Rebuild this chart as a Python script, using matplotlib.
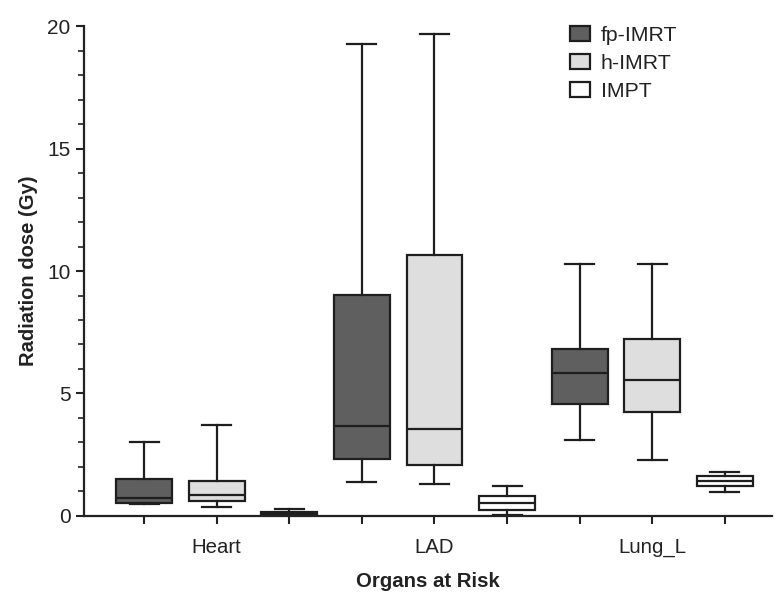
import matplotlib
matplotlib.use("Agg")
import matplotlib.pyplot as plt
from matplotlib.patches import Patch
from matplotlib.ticker import MultipleLocator

plt.rcParams['font.family'] = ['Liberation Sans', 'DejaVu Sans']

organs = ["Heart", "LAD", "Lung_L"]
plans = ["fp-IMRT", "h-IMRT", "IMPT"]
colors = ["#5f5f5f", "#dedede", "#ffffff"]

# per organ, per plan: (whislo, q1, med, q3, whishi)
whislo = [[0.49, 0.38, 0.00], [1.39, 1.29, 0.02], [3.09, 2.29, 0.98]]
q1     = [[0.54, 0.61, 0.04], [2.33, 2.07, 0.24], [4.58, 4.23, 1.21]]
med    = [[0.72, 0.84, 0.09], [3.65, 3.55, 0.54], [5.85, 5.55, 1.42]]
q3     = [[1.50, 1.43, 0.15], [9.02, 10.65, 0.82], [6.82, 7.21, 1.63]]
whishi = [[3.00, 3.71, 0.29], [19.29, 19.70, 1.20], [10.27, 10.27, 1.80]]

fig = plt.figure(figsize=(7.76, 5.95), dpi=100)
ax = fig.add_axes([0.108, 0.133, 0.887, 0.823])

positions = []
for i, organ in enumerate(organs):
    for j, plan in enumerate(plans):
        pos = i * 3 + j + 1
        positions.append(pos)
        st = dict(whislo=whislo[i][j], q1=q1[i][j], med=med[i][j],
                  q3=q3[i][j], whishi=whishi[i][j], fliers=[])
        ax.bxp([st], positions=[pos], widths=0.77, patch_artist=True,
               showfliers=False, capwidths=0.4,
               boxprops=dict(facecolor=colors[j], edgecolor="#1e1e1e", linewidth=1.6),
               medianprops=dict(color="#1e1e1e", linewidth=1.6),
               whiskerprops=dict(color="#1e1e1e", linewidth=1.6),
               capprops=dict(color="#1e1e1e", linewidth=1.6))

ax.set_xlim(0.17, 9.65)
ax.set_ylim(0, 20)
ax.set_xticks(positions)
labels = []
for p in positions:
    if (p - 2) % 3 == 0:
        labels.append(organs[(p - 2) // 3])
    else:
        labels.append("")
ax.set_xticklabels(labels, fontsize=14.7, color="#222222")
ax.yaxis.set_major_locator(MultipleLocator(5))
ax.yaxis.set_minor_locator(MultipleLocator(1))
ax.tick_params(axis='y', which='major', labelsize=15, length=6, width=1.5,
               color="#222222", labelcolor="#222222")
ax.tick_params(axis='y', which='minor', length=4, width=1.2, color="#222222")
ax.tick_params(axis='x', which='major', length=6, width=1.5, pad=10, color="#222222")
for s in ['top', 'right']:
    ax.spines[s].set_visible(False)
for s in ['left', 'bottom']:
    ax.spines[s].set_linewidth(1.6)
    ax.spines[s].set_color("#222222")

ax.set_ylabel("Radiation dose (Gy)", fontsize=14.5, fontweight='bold', labelpad=7,
              color="#222222")
ax.set_xlabel("Organs at Risk", fontsize=14.7, fontweight='bold', labelpad=11,
              color="#222222")

handles = [Patch(facecolor=c, edgecolor="#1e1e1e", linewidth=1.6, label=p)
           for p, c in zip(plans, colors)]
leg = ax.legend(handles=handles, loc='upper left', bbox_to_anchor=(0.706, 1.0),
                frameon=False, fontsize=15.3, handlelength=0.94, handleheight=0.7,
                handletextpad=0.52, labelspacing=0.41, borderpad=0, borderaxespad=0)
for t in leg.get_texts():
    t.set_color("#222222")

fig.savefig("out.png", dpi=100)
